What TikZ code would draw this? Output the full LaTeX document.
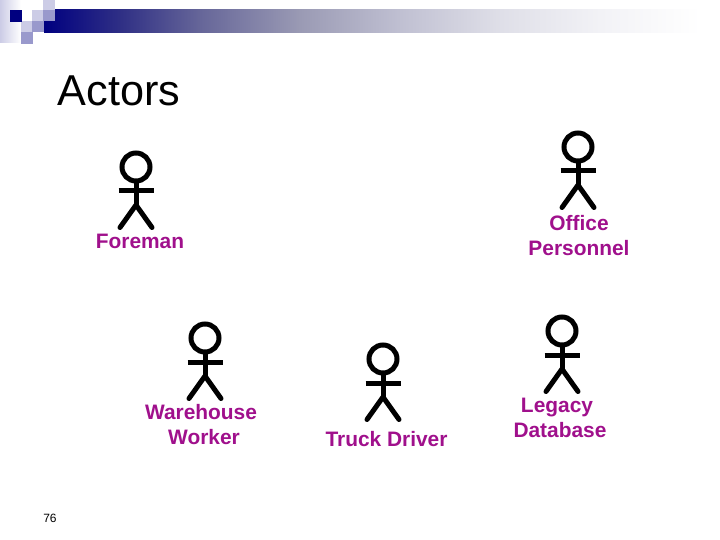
\documentclass[tikz,border=0pt]{standalone}
\usepackage{fontspec}
\setmainfont{Liberation Sans}
\definecolor{navy}{HTML}{000080}
\definecolor{sqmid}{HTML}{9999CC}
\definecolor{sqlight}{HTML}{CCCCE6}
\definecolor{labelc}{HTML}{A0108C}
\definecolor{barA}{HTML}{2F2F85}
\definecolor{barB}{HTML}{666699}
\definecolor{barC}{HTML}{9A9AB4}
\definecolor{barD}{HTML}{C0C0D2}
\definecolor{barE}{HTML}{DFDFE8}
\definecolor{barF}{HTML}{F2F2F6}
\pgfdeclarehorizontalshading{barfade}{100bp}{
  color(0bp)=(navy);
  color(25bp)=(navy);
  color(30.8bp)=(barA);
  color(36.9bp)=(barB);
  color(44.5bp)=(barC);
  color(52.2bp)=(barD);
  color(59.8bp)=(barE);
  color(67.4bp)=(barF);
  color(75bp)=(white);
  color(100bp)=(white)
}
\tikzset{
  x=1pt,y=-1pt,
  limb/.style={line width=5pt,line cap=round,black},
  lbl/.style={text=labelc,align=center,inner sep=0pt,font=\fontsize{20.9}{25}\selectfont\bfseries},
  actor/.pic={
    \draw[limb] (0,0) circle[radius=14];
    \draw[limb,line cap=butt] (0,14) -- (0,38);
    \draw[limb,line cap=butt] (-17.5,24) -- (17.5,24);
    \draw[limb] (-16,60.5) -- (0,38) -- (16,60.5);
  }
}
\begin{document}
\begin{tikzpicture}
\useasboundingbox (0,0) rectangle (720,540);
\fill[white] (0,0) rectangle (720,540);
% header
\shade[shading=barfade] (44,10) rectangle (700,32.5);
\shade[left color=sqlight,right color=white] (0,0) rectangle (21,43);
\fill[sqlight] (43,0) rectangle (55,10);
\fill[sqlight] (32,10) rectangle (43,21);
\fill[sqmid] (43,10) rectangle (55,21);
\fill[sqlight] (21,21) rectangle (32,32);
\fill[sqmid] (32,21) rectangle (44,32);
\fill[sqmid] (21,32) rectangle (33,44);
\fill[navy] (10,10) rectangle (22,22);
% title
\node[anchor=base west,inner sep=0pt,font=\fontsize{43.2}{50}\selectfont] (title) at (57.5,105.5) {Actors};
\node[anchor=base,inner sep=0pt,font=\fontsize{12}{14}\selectfont] (page) at (50,522) {76};
% actors
\pic at (136,167) {actor};
\pic at (578,147) {actor};
\pic at (205,338) {actor};
\pic at (383,359) {actor};
\pic at (562,331) {actor};
% labels
\node[lbl] (foreman) at (140,241) {Foreman};
\node[lbl] (office) at (579,236) {Office\\Personnel};
\node[lbl] (warehouse) at (204,425) {Warehouse\hspace{6pt}\mbox{}\\Worker};
\node[lbl] (truck) at (386.5,439) {Truck Driver};
\node[lbl] (legacy) at (560,418) {Legacy\hspace{6pt}\mbox{}\\Database};
\end{tikzpicture}
\end{document}
